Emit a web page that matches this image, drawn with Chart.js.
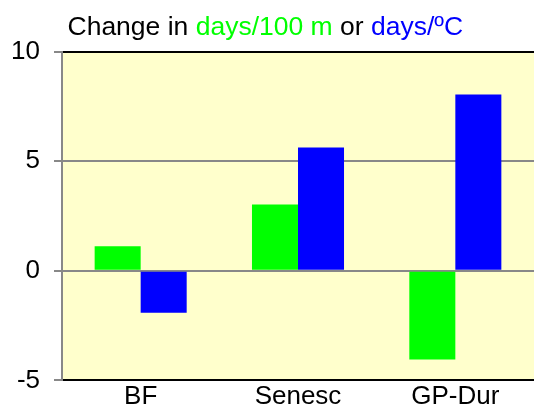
<!DOCTYPE html>
<html>
<head>
<meta charset="utf-8">
<script src="https://cdn.jsdelivr.net/npm/chart.js@4/dist/chart.umd.min.js"></script>
<style>
  html, body { margin: 0; padding: 0; background: #ffffff; }
  #wrap { width: 534px; height: 410px; position: relative; }
</style>
</head>
<body>
<div id="wrap"><canvas id="c" width="534" height="410"></canvas></div>
<script>
const categories = ['BF', 'Senesc', 'GP-Dur'];
const perAltitude = [1.12, 3.02, -4.05];     // days / 100 m
const perDegree = [-1.92, 5.62, 8.04];       // days / ºC
const yTicks = [-5, 0, 5, 10];

const titleParts = [
  { text: 'Change in ', color: '#000000' },
  { text: 'days/100 m', color: '#00ff00' },
  { text: ' or ', color: '#000000' },
  { text: 'days/\u00baC', color: '#0000ff' }
];

const FONT = '"Liberation Sans", Arial, Helvetica, sans-serif';

const plotBackground = {
  id: 'plotBackground',
  beforeDraw(chart) {
    const { ctx, chartArea: a } = chart;
    ctx.save();
    ctx.fillStyle = '#ffffcc';
    ctx.fillRect(a.left, a.top, a.right - a.left, a.bottom - a.top);
    ctx.restore();
  }
};

const colouredTitle = {
  id: 'colouredTitle',
  afterDraw(chart) {
    const { ctx } = chart;
    ctx.save();
    ctx.font = '26.5px ' + FONT;
    ctx.textBaseline = 'alphabetic';
    ctx.textAlign = 'left';
    let x = 67.5;
    for (const p of titleParts) {
      ctx.fillStyle = p.color;
      ctx.fillText(p.text, x, 35);
      x += ctx.measureText(p.text).width;
    }
    ctx.restore();
  }
};

new Chart(document.getElementById('c'), {
  type: 'bar',
  data: {
    labels: categories,
    datasets: [
      { data: perAltitude, backgroundColor: '#00ff00', borderWidth: 0 },
      { data: perDegree, backgroundColor: '#0000ff', borderWidth: 0 }
    ]
  },
  options: {
    responsive: false,
    animation: false,
    devicePixelRatio: 1,
    layout: { padding: { top: 51.5, right: 0, bottom: 0, left: 0 } },
    plugins: { legend: { display: false }, tooltip: { enabled: false }, title: { display: false } },
    datasets: { bar: { barPercentage: 1.0, categoryPercentage: 0.585 } },
    scales: {
      x: {
        grid: { display: false, drawTicks: false },
        border: { display: false },
        ticks: { color: '#000000', font: { family: FONT, size: 26 }, padding: 1 },
        afterFit(s) { s.height = 28.5; }
      },
      y: {
        min: -5,
        max: 10,
        afterBuildTicks(s) { s.ticks = yTicks.map(v => ({ value: v })); },
        grid: {
          color: ctx => (ctx.tick && (ctx.tick.value === 10 || ctx.tick.value === -5)) ? '#000000' : '#888888',
          tickColor: '#888888',
          lineWidth: 2,
          tickLength: 8,
          drawOnChartArea: true
        },
        border: { display: true, color: '#888888', width: 2 },
        ticks: { color: '#000000', font: { family: FONT, size: 26 }, padding: 14 },
        afterFit(s) { s.width = 62; }
      }
    }
  },
  plugins: [plotBackground, colouredTitle]
});
</script>
</body>
</html>
